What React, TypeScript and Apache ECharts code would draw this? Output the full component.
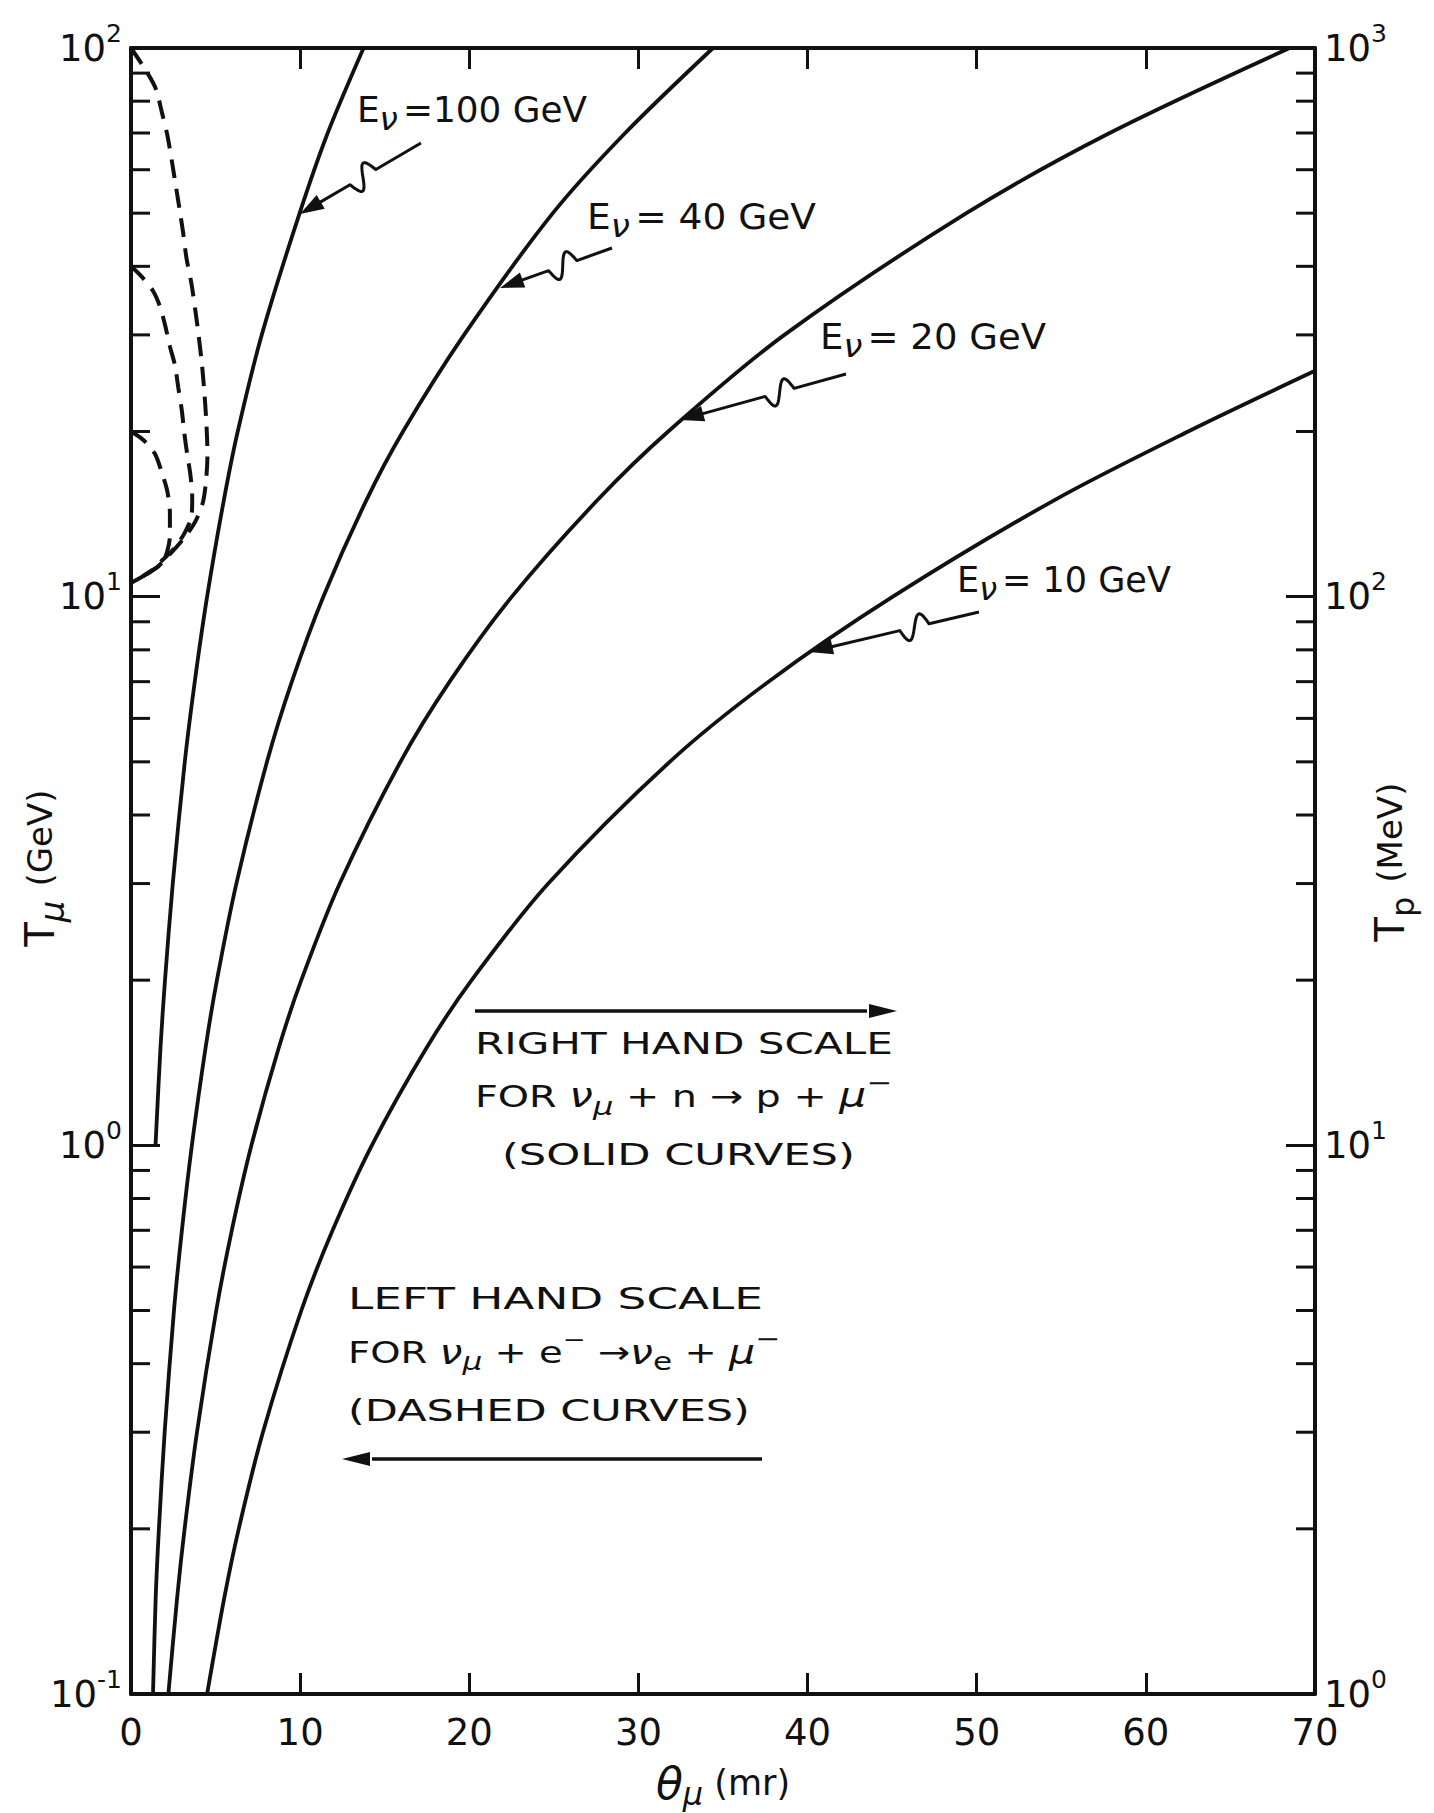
import React, { useEffect, useRef } from "react";
import * as echarts from "echarts";

const FONT = '"DejaVu Sans", "Liberation Sans", sans-serif';
const INK = "#111111";

// ---- axes ----
const THETA_MIN = 0;
const THETA_MAX = 70;
const THETA_STEP = 10;
const TMU_MIN = 0.1; // left scale, GeV
const TMU_MAX = 100;
const TP_MIN = 1; // right scale, MeV
const TP_MAX = 1000;
const MINOR_STEPS = [2, 3, 4, 5, 6, 7, 8, 9];
const LEFT_DECADES = [0.1, 1, 10];
const RIGHT_DECADES = [1, 10, 100];

// ---- solid curves: nu_mu + n -> p + mu-  (theta in mr, Tp in MeV, right scale) ----
const e100Theta = [1.45, 1.74, 2.01, 2.47, 3.18, 3.77, 4.5, 5.49, 6.31, 7.73, 9.97, 11.63, 13.75];
const e100Tp = [10, 15, 20, 30, 50, 70, 100, 150, 200, 300, 500, 700, 1000];
const e40Theta = [1.3, 1.46, 1.65, 1.99, 2.54, 3.01, 3.6, 4.4, 5.08, 6.23, 8.04, 9.51, 11.37, 13.92, 16.08, 19.69, 24.94, 29.22, 34.41];
const e40Tp = [1, 1.5, 2, 3, 5, 7, 10, 15, 20, 30, 50, 70, 100, 150, 200, 300, 500, 700, 1000];
const e20Theta = [2.21, 2.73, 3.17, 3.9, 5.04, 5.96, 7.12, 8.72, 10.07, 12.34, 15.93, 18.84, 22.52, 27.58, 31.76, 38.63, 49.39, 57.86, 68.5];
const e20Tp = [1, 1.5, 2, 3, 5, 7, 10, 15, 20, 30, 50, 70, 100, 150, 200, 300, 500, 700, 1000];
const e10Theta = [4.5, 5.52, 6.37, 7.8, 10.07, 11.92, 14.24, 17.44, 20.14, 24.67, 31.85, 37.69, 45.04, 54.6, 62.5, 70];
const e10Tp = [1, 1.5, 2, 3, 5, 7, 10, 15, 20, 30, 50, 70, 100, 150, 200, 258];

// ---- dashed curves: nu_mu + e- -> nu_e + mu-  (theta in mr, Tmu in GeV, left scale) ----
const d100Theta = [0, 0.85, 1.45, 1.85, 2.16, 2.46, 2.67, 2.88, 3.08, 3.28, 3.58, 3.8, 4.0, 4.2, 4.35, 4.46, 4.52, 4.46, 4.26, 3.8, 3.15, 2.25, 1.52, 0.73, 0];
const d100Tmu = [100, 91.3, 84.5, 75.8, 69.1, 61.0, 55.6, 50.6, 46.1, 41.4, 37.1, 33.3, 29.9, 26.4, 23.3, 20.6, 18.2, 16.6, 14.9, 13.7, 12.8, 11.9, 11.3, 10.9, 10.6];
const d40Theta = [0, 0.63, 1.32, 1.71, 2.01, 2.31, 2.6, 2.8, 3.0, 3.15, 3.32, 3.52, 3.62, 3.57, 3.19, 2.6, 1.91, 1.12, 0];
const d40Tmu = [40, 38.3, 36.0, 33.8, 31.3, 28.5, 26.4, 24.0, 21.9, 19.9, 18.2, 16.6, 15.1, 14.0, 13.1, 12.3, 11.7, 11.1, 10.6];
const d20Theta = [0, 0.73, 1.42, 1.83, 2.14, 2.3, 2.3, 2.14, 1.83, 1.12, 0.24, 0];
const d20Tmu = [20, 19.3, 18.2, 16.8, 15.6, 14.2, 12.9, 12.1, 11.5, 11.1, 10.7, 10.6];

const solidCurves = [
  { name: "E\u03bd = 100 GeV", theta: e100Theta, val: e100Tp },
  { name: "E\u03bd = 40 GeV", theta: e40Theta, val: e40Tp },
  { name: "E\u03bd = 20 GeV", theta: e20Theta, val: e20Tp },
  { name: "E\u03bd = 10 GeV", theta: e10Theta, val: e10Tp },
];
const dashedCurves = [
  { name: "dashed 100", theta: d100Theta, val: d100Tmu },
  { name: "dashed 40", theta: d40Theta, val: d40Tmu },
  { name: "dashed 20", theta: d20Theta, val: d20Tmu },
];

// ---- layout (pixels) ----
const GRID = { left: 131, top: 48, width: 1184, height: 1646 };

type Frag = { t: string; s: number; it?: boolean; dy?: number; gap?: number };

let measureCtx: CanvasRenderingContext2D | null = null;
function textWidth(t: string, size: number, italic?: boolean) {
  if (!measureCtx) measureCtx = document.createElement("canvas").getContext("2d");
  if (!measureCtx) return t.length * size * 0.6;
  measureCtx.font = `${italic ? "italic " : ""}${size}px ${FONT}`;
  return measureCtx.measureText(t).width;
}

function fragsWidth(frags: Frag[]) {
  return frags.reduce((a, f) => a + textWidth(f.t, f.s, f.it) + (f.gap || 0), 0);
}

function fragLine(frags: Frag[], x: number, y: number, target?: number) {
  let cx = 0;
  const children: any[] = [];
  for (const f of frags) {
    children.push({
      type: "text",
      x: cx,
      y: f.dy || 0,
      silent: true,
      style: {
        text: f.t,
        fontSize: f.s,
        fontFamily: FONT,
        fontStyle: f.it ? "italic" : "normal",
        fill: INK,
        textAlign: "left",
        textVerticalAlign: "middle",
        verticalAlign: "middle",
      },
    });
    cx += textWidth(f.t, f.s, f.it) + (f.gap || 0);
  }
  const sx = target ? target / cx : 1;
  return { type: "group", x, y, scaleX: sx, children };
}

function verticalName(frags: Frag[], cx: number, cy: number) {
  const w = fragsWidth(frags);
  return { type: "group", x: cx, y: cy, rotation: Math.PI / 2, children: [fragLine(frags, -w / 2, 0)] };
}

function squiggleArrow(S: number[], T: number[], frac: number) {
  const dx = T[0] - S[0];
  const dy = T[1] - S[1];
  const L = Math.hypot(dx, dy);
  const ux = dx / L, uy = dy / L;
  const nx = -uy, ny = ux;
  const headLen = 24, headW = 8;
  const w = 30, A = 12;
  const c = frac * L;
  const pts: number[][] = [S];
  const n = 32;
  for (let i = 0; i <= n; i++) {
    const t = c - w / 2 + (w * i) / n;
    const off = A * Math.sin((2 * Math.PI * i) / n);
    pts.push([S[0] + ux * t + nx * off, S[1] + uy * t + ny * off]);
  }
  const endT = L - headLen + 3;
  pts.push([S[0] + ux * endT, S[1] + uy * endT]);
  const base = [T[0] - ux * headLen, T[1] - uy * headLen];
  return [
    { type: "polyline", silent: true, shape: { points: pts }, style: { stroke: INK, lineWidth: 3, fill: null, lineJoin: "round" } },
    {
      type: "polygon",
      silent: true,
      shape: { points: [T, [base[0] + nx * headW, base[1] + ny * headW], [base[0] - nx * headW, base[1] - ny * headW]] },
      style: { fill: INK },
    },
  ];
}

function hArrow(x1: number, x2: number, y: number, headAtRight: boolean) {
  const headLen = 28, headW = 7;
  const tip = headAtRight ? x2 : x1;
  const baseX = headAtRight ? x2 - headLen : x1 + headLen;
  return [
    {
      type: "line",
      silent: true,
      shape: { x1: headAtRight ? x1 : baseX + 2, y1: y, x2: headAtRight ? baseX - 2 : x2, y2: y },
      style: { stroke: INK, lineWidth: 3.5 },
    },
    { type: "polygon", silent: true, shape: { points: [[tip, y], [baseX, y - headW], [baseX, y + headW]] }, style: { fill: INK } },
  ];
}

const powLabel = (v: number) => {
  const e = Math.round(Math.log10(v));
  return `{b|10}{s|${e}}`;
};

const labelRich = {
  b: { fontSize: 37, fontFamily: FONT, color: INK, verticalAlign: "middle" },
  s: { fontSize: 25, fontFamily: FONT, color: INK, verticalAlign: "middle", padding: [0, 0, 30, 0] },
};

function minorSeries(yAxisIndex: number, xVal: number, decades: number[], dir: number) {
  const data = decades.flatMap((d) => MINOR_STEPS.map((k) => [xVal, +(k * d).toPrecision(4)]));
  return {
    type: "custom",
    xAxisIndex: 0,
    yAxisIndex,
    silent: true,
    data,
    renderItem: (_p: any, api: any) => {
      const p = api.coord([api.value(0), api.value(1)]);
      return {
        type: "line",
        shape: { x1: p[0], y1: p[1], x2: p[0] + dir * 19, y2: p[1] },
        style: { stroke: INK, lineWidth: 3 },
      };
    },
  };
}

export default function App() {
  const ref = useRef<HTMLDivElement>(null);
  useEffect(() => {
    if (!ref.current) return;
    const chart = echarts.init(ref.current, null, { renderer: "svg" });

    const axisLine = { show: true, onZero: false, lineStyle: { color: INK, width: 4 } };
    const tickStyle = { color: INK, width: 3 };

    const graphics: any[] = [];
    const enuLabel = (val: string, x: number, y: number, w: number) =>
      fragLine(
        [
          { t: "E", s: 35 },
          { t: "\u03bd", s: 32, it: true, dy: 9, gap: 5 },
          { t: val, s: 35 },
        ],
        x,
        y,
        w
      );
    graphics.push(enuLabel("=100 GeV", 357, 110, 230));
    graphics.push(enuLabel("= 40 GeV", 587, 217, 229));
    graphics.push(enuLabel("= 20 GeV", 820, 337, 226));
    graphics.push(enuLabel("= 10 GeV", 957, 580, 214));
    graphics.push(...squiggleArrow([421, 143], [300, 214], 0.48));
    graphics.push(...squiggleArrow([612, 248], [500, 288], 0.44));
    graphics.push(...squiggleArrow([846, 374], [680, 420], 0.4));
    graphics.push(...squiggleArrow([979, 612], [809, 652], 0.38));

    // right-hand scale block
    graphics.push(...hArrow(475, 897, 1011, true));
    graphics.push(fragLine([{ t: "RIGHT HAND SCALE", s: 31 }], 475, 1044, 418));
    graphics.push(
      fragLine(
        [
          { t: "FOR ", s: 31 },
          { t: "\u03bd", s: 33, it: true },
          { t: "\u03bc", s: 25, it: true, dy: 10 },
          { t: " + n ", s: 31 },
          { t: "\u2192", s: 31 },
          { t: " p + ", s: 31 },
          { t: "\u03bc", s: 33, it: true },
          { t: "\u2212", s: 24, dy: -13 },
        ],
        475,
        1096,
        417
      )
    );
    graphics.push(fragLine([{ t: "(SOLID CURVES)", s: 31 }], 502, 1154, 353));

    // left-hand scale block
    graphics.push(fragLine([{ t: "LEFT HAND SCALE", s: 31 }], 348, 1298, 415));
    graphics.push(
      fragLine(
        [
          { t: "FOR ", s: 31 },
          { t: "\u03bd", s: 33, it: true },
          { t: "\u03bc", s: 25, it: true, dy: 10 },
          { t: " + e", s: 31 },
          { t: "\u2212", s: 22, dy: -13 },
          { t: " ", s: 31 },
          { t: "\u2192", s: 31 },
          { t: "\u03bd", s: 33, it: true },
          { t: "e", s: 25, dy: 10 },
          { t: " + ", s: 31 },
          { t: "\u03bc", s: 33, it: true },
          { t: "\u2212", s: 24, dy: -13 },
        ],
        348,
        1352,
        432
      )
    );
    graphics.push(fragLine([{ t: "(DASHED CURVES)", s: 31 }], 348, 1410, 402));
    graphics.push(...hArrow(342, 762, 1459, false));

    // vertical axis titles
    graphics.push(
      verticalName(
        [
          { t: "T", s: 40 },
          { t: "\u03bc", s: 34, it: true, dy: 12, gap: 14 },
          { t: "(GeV)", s: 34 },
        ],
        40,
        868
      )
    );
    graphics.push(
      verticalName(
        [
          { t: "T", s: 40 },
          { t: "p", s: 32, dy: 13, gap: 14 },
          { t: "(MeV)", s: 34 },
        ],
        1390,
        862
      )
    );

    const series: any[] = [];
    solidCurves.forEach((c) =>
      series.push({
        name: c.name,
        type: "line",
        xAxisIndex: 0,
        yAxisIndex: 1,
        data: c.theta.map((t, i) => [t, c.val[i]]),
        showSymbol: false,
        symbol: "none",
        smooth: 0.3,
        silent: true,
        lineStyle: { color: INK, width: 3.8 },
      })
    );
    dashedCurves.forEach((c) =>
      series.push({
        name: c.name,
        type: "line",
        xAxisIndex: 0,
        yAxisIndex: 0,
        data: c.theta.map((t, i) => [t, c.val[i]]),
        showSymbol: false,
        symbol: "none",
        smooth: 0.3,
        silent: true,
        lineStyle: { color: INK, width: 4, type: [19, 11] },
      })
    );
    series.push(minorSeries(0, THETA_MIN, LEFT_DECADES, 1));
    series.push(minorSeries(1, THETA_MAX, RIGHT_DECADES, -1));

    const option: any = {
      animation: false,
      backgroundColor: "#ffffff",
      grid: { ...GRID, containLabel: false, outerBoundsMode: "none" },
      xAxis: [
        {
          type: "value",
          position: "bottom",
          min: THETA_MIN,
          max: THETA_MAX,
          interval: THETA_STEP,
          axisLine,
          axisTick: { show: true, inside: true, length: 21, lineStyle: tickStyle },
          axisLabel: { fontSize: 37, fontFamily: FONT, color: INK, margin: 20 },
          splitLine: { show: false },
          name: "{t|\u03b8}{s|\u03bc}{n| (mr)}",
          nameLocation: "middle",
          nameGap: 62,
          nameTextStyle: {
            fontFamily: FONT,
            color: INK,
            rich: {
              t: { fontSize: 44, fontStyle: "italic", fontFamily: FONT, color: INK, verticalAlign: "middle" },
              s: { fontSize: 32, fontStyle: "italic", fontFamily: FONT, color: INK, verticalAlign: "middle", padding: [22, 0, 0, 0] },
              n: { fontSize: 35, fontFamily: FONT, color: INK, verticalAlign: "middle" },
            },
          },
        },
        {
          type: "value",
          position: "top",
          min: THETA_MIN,
          max: THETA_MAX,
          interval: THETA_STEP,
          axisLine,
          axisTick: { show: true, inside: true, length: 21, lineStyle: tickStyle },
          axisLabel: { show: false },
          splitLine: { show: false },
        },
      ],
      yAxis: [
        {
          type: "log",
          logBase: 10,
          position: "left",
          min: TMU_MIN,
          max: TMU_MAX,
          splitNumber: 3,
          axisLine,
          axisTick: { show: true, inside: true, length: 29, lineStyle: tickStyle },
          axisLabel: { formatter: powLabel, rich: labelRich, margin: 9 },
          splitLine: { show: false },
        },
        {
          type: "log",
          logBase: 10,
          position: "right",
          min: TP_MIN,
          max: TP_MAX,
          splitNumber: 3,
          axisLine,
          axisTick: { show: true, inside: true, length: 29, lineStyle: tickStyle },
          axisLabel: { formatter: powLabel, rich: labelRich, margin: 9 },
          splitLine: { show: false },
        },
      ],
      series,
      graphic: { elements: graphics },
    };
    chart.setOption(option);
    return () => chart.dispose();
  }, []);
  return (
    <div
      ref={ref}
      style={{ position: "absolute", left: 0, top: 0, width: 1434, height: 1813, background: "#fff" }}
    />
  );
}
